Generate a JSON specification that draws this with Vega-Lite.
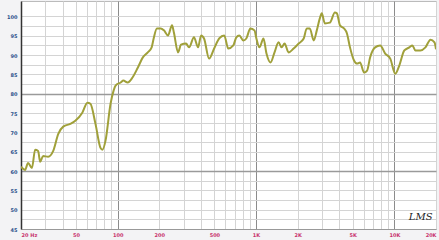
{
  "$schema": "https://vega.github.io/schema/vega-lite/v6.json",
  "width": 415,
  "height": 228,
  "autosize": {"type": "none"},
  "padding": {"left": 21, "top": 1, "right": 3, "bottom": 11},
  "background": "#f3f3f5",
  "config": {
    "view": {"fill": "#ffffff", "stroke": "#bbbbbb"},
    "axis": {"ticks": false, "labelFont": "DejaVu Sans", "labelFontSize": 5, "labelFontWeight": "bold"}
  },
  "encoding": {
    "x": {
      "field": "f", "type": "quantitative",
      "scale": {"type": "log", "domain": [20, 20000], "nice": false},
      "axis": {
        "title": null,
        "values": [20,30,40,50,60,70,80,90,100,200,300,400,500,600,700,800,900,1000,2000,3000,4000,5000,6000,7000,8000,9000,10000,20000],
        "labelExpr": "datum.value == 20 ? '20  Hz' : datum.value == 50 ? '50' : datum.value == 100 ? '100' : datum.value == 200 ? '200' : datum.value == 500 ? '500' : datum.value == 1000 ? '1K' : datum.value == 2000 ? '2K' : datum.value == 5000 ? '5K' : datum.value == 10000 ? '10K' : datum.value == 20000 ? '20K' : ''",
        "labelColor": "#c8326e",
        "labelPadding": 3,
        "labelFlush": true,
        "labelOverlap": false,
        "domainColor": "#999999",
        "gridColor": {"condition": {"test": "datum.value == 100 || datum.value == 1000 || datum.value == 10000", "value": "#8c8c8c"}, "value": "#d4d4d4"},
        "gridWidth": 1
      }
    },
    "y": {
      "field": "db", "type": "quantitative",
      "scale": {"domain": [45, 104], "nice": false, "zero": false},
      "axis": {
        "title": null,
        "values": [45,47.5,50,52.5,55,57.5,60,62.5,65,67.5,70,72.5,75,77.5,80,82.5,85,87.5,90,92.5,95,97.5,100],
        "labelExpr": "datum.value % 5 == 0 ? datum.label : ''",
        "labelColor": "#2a4f8a",
        "labelPadding": 4,
        "labelOverlap": false,
        "domainColor": "#333333",
        "domainWidth": 1.5,
        "gridColor": {"condition": {"test": "datum.value == 60 || datum.value == 80", "value": "#9a9a9a"}, "value": "#d4d4d4"},
        "gridWidth": {"condition": {"test": "datum.value == 60 || datum.value == 80", "value": 1.5}, "value": 1}
      }
    }
  },
  "layer": [
    {
      "data": {"values": [
        {"f": 20, "db": 61.1}, {"f": 21.4, "db": 60.3}, {"f": 22.5, "db": 62.1}, {"f": 24.0, "db": 60.8},
        {"f": 25.3, "db": 65.5}, {"f": 26.6, "db": 65.2}, {"f": 27.5, "db": 62.4}, {"f": 28.9, "db": 63.9},
        {"f": 31.4, "db": 63.7}, {"f": 34.2, "db": 65.2}, {"f": 37.2, "db": 69.6}, {"f": 40.4, "db": 71.5},
        {"f": 45.4, "db": 72.2}, {"f": 49.4, "db": 73.0}, {"f": 55.5, "db": 75.1}, {"f": 60.4, "db": 77.7},
        {"f": 63.5, "db": 77.4}, {"f": 69.1, "db": 72.2}, {"f": 75.1, "db": 66.0}, {"f": 77.6, "db": 65.5},
        {"f": 81.6, "db": 67.8}, {"f": 88.8, "db": 77.4}, {"f": 93.4, "db": 80.8}, {"f": 96.5, "db": 82.1},
        {"f": 105, "db": 82.9}, {"f": 110, "db": 83.4}, {"f": 118, "db": 82.9}, {"f": 128, "db": 84.2},
        {"f": 140, "db": 86.8}, {"f": 152, "db": 89.4}, {"f": 165, "db": 90.7}, {"f": 176, "db": 92.0},
        {"f": 182, "db": 94.3}, {"f": 192, "db": 96.9}, {"f": 205, "db": 96.9}, {"f": 216, "db": 96.4},
        {"f": 231, "db": 95.1}, {"f": 247, "db": 97.7}, {"f": 255, "db": 95.8}, {"f": 273, "db": 90.7},
        {"f": 287, "db": 92.7}, {"f": 312, "db": 93.0}, {"f": 328, "db": 92.0}, {"f": 356, "db": 94.6},
        {"f": 381, "db": 92.0}, {"f": 401, "db": 95.1}, {"f": 421, "db": 94.3}, {"f": 458, "db": 89.1},
        {"f": 498, "db": 91.7}, {"f": 542, "db": 94.3}, {"f": 589, "db": 95.1}, {"f": 630, "db": 91.7},
        {"f": 685, "db": 92.5}, {"f": 720, "db": 94.6}, {"f": 757, "db": 95.1}, {"f": 810, "db": 93.8},
        {"f": 851, "db": 94.3}, {"f": 910, "db": 96.9}, {"f": 974, "db": 96.4}, {"f": 1006, "db": 94.3},
        {"f": 1058, "db": 92.0}, {"f": 1132, "db": 94.3}, {"f": 1190, "db": 90.4}, {"f": 1272, "db": 88.1},
        {"f": 1361, "db": 90.7}, {"f": 1455, "db": 93.3}, {"f": 1530, "db": 92.0}, {"f": 1609, "db": 93.0},
        {"f": 1720, "db": 90.7}, {"f": 1870, "db": 91.7}, {"f": 2034, "db": 93.0}, {"f": 2212, "db": 94.3},
        {"f": 2326, "db": 96.9}, {"f": 2446, "db": 96.9}, {"f": 2616, "db": 93.8}, {"f": 2750, "db": 96.4},
        {"f": 2891, "db": 99.5}, {"f": 2989, "db": 100.8}, {"f": 3142, "db": 98.2}, {"f": 3418, "db": 98.4},
        {"f": 3716, "db": 101.0}, {"f": 3843, "db": 100.8}, {"f": 4042, "db": 97.7}, {"f": 4321, "db": 96.9},
        {"f": 4544, "db": 95.6}, {"f": 4778, "db": 92.0}, {"f": 5110, "db": 88.6}, {"f": 5373, "db": 87.8},
        {"f": 5649, "db": 88.1}, {"f": 6040, "db": 85.5}, {"f": 6351, "db": 86.0}, {"f": 6677, "db": 89.4},
        {"f": 7262, "db": 92.0}, {"f": 7898, "db": 92.5}, {"f": 8587, "db": 90.4}, {"f": 9338, "db": 89.1},
        {"f": 10152, "db": 85.2}, {"f": 10856, "db": 87.3}, {"f": 11805, "db": 91.2}, {"f": 12832, "db": 92.0},
        {"f": 13494, "db": 92.5}, {"f": 14188, "db": 91.2}, {"f": 15430, "db": 91.2}, {"f": 16774, "db": 92.0},
        {"f": 18240, "db": 94.0}, {"f": 19504, "db": 93.3}, {"f": 20000, "db": 91.5}
      ]},
      "mark": {"type": "line", "color": "#a0a03a", "strokeWidth": 2, "interpolate": "monotone", "clip": true}
    },
    {
      "data": {"values": [{"f": 15500, "db": 48.2, "t": "LMS"}]},
      "mark": {"type": "text", "font": "DejaVu Serif", "fontStyle": "italic", "fontSize": 10, "color": "#222222", "align": "center", "baseline": "middle"},
      "encoding": {"text": {"field": "t"}}
    }
  ]
}
